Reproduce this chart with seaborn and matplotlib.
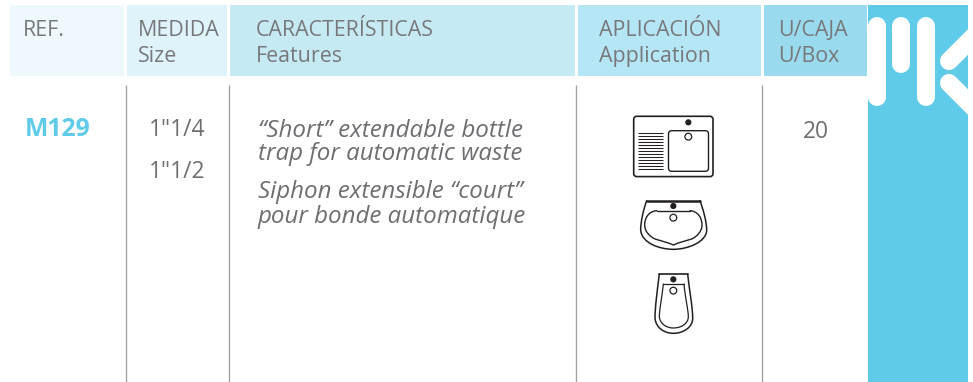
import matplotlib
matplotlib.use("Agg")
import matplotlib.pyplot as plt
from matplotlib.patches import Rectangle, FancyBboxPatch, Circle, PathPatch
from matplotlib.path import Path
import numpy as np
import pandas as pd
import seaborn as sns

headers_es = ["REF.", "MEDIDA", "CARACTERÍSTICAS", "APLICACIÓN", "U/CAJA"]
headers_en = ["", "Size", "Features", "Application", "U/Box"]
header_colors = ["#edf9fc", "#def3fa", "#c5eaf4", "#b5e6f5", "#99daef"]
ref_code = "M129"
sizes = ['1"1/4', '1"1/2']
features = ["“Short” extendable bottle", "trap for automatic waste",
            "Siphon extensible “court”", "pour bonde automatique"]
units = "20"

# layout, in pixels of the 973x382 picture
col_left = [10, 127, 230, 578, 764]
col_right = [124, 227, 575, 761, 867]
text_left = [23, 138, 256, 599, 778]
rule_x = [125.7, 228.7, 576, 762]
TEXT = "#77787b"
DARK = "#6d6e71"
BLUE = "#5fcbe8"
INK = "#231f20"

sns.set_style("white")
plt.rcParams["font.family"] = ["Open Sans", "DejaVu Sans"]

fig = plt.figure(figsize=(9.73, 3.82), dpi=100)
ax = fig.add_axes([0, 0, 1, 1])
ax.set_xlim(0, 973)
ax.set_ylim(382, 0)
ax.axis("off")
sns.despine(ax=ax, left=True, bottom=True)

bands = pd.DataFrame({"left": col_left, "right": col_right, "color": header_colors})
for _, b in bands.iterrows():
    ax.add_patch(Rectangle((b["left"], 5), b["right"] - b["left"], 71, fc=b["color"], ec="none"))

for i in range(5):
    ax.text(text_left[i], 30, headers_es[i], fontsize=15.4, color=TEXT, va="center", ha="left")
    if headers_en[i]:
        ax.text(text_left[i], 56.5, headers_en[i], fontsize=15.4, color=TEXT, va="center", ha="left")

ax.vlines(rule_x, 85, 382, color="#a3a4a6", lw=1.0)

ax.text(57.5, 129.5, ref_code, fontsize=17.8, fontweight="bold", color=BLUE, ha="center", va="center")
ax.text(177, 130.5, sizes[0], fontsize=16.4, color=DARK, ha="center", va="center")
ax.text(177, 171.5, sizes[1], fontsize=16.4, color=DARK, ha="center", va="center")
for y, line_text in zip([131, 154, 192, 217], features):
    ax.text(258, y, line_text, fontsize=17.4, style="italic", color=DARK, va="center", ha="left")
ax.text(816, 131.5, units, fontsize=16.4, color=DARK, ha="center", va="center")


def z(x, y):
    return 600 + x / 3, 90 + y / 3


def line(p0, p1, lw=1.2):
    ax.plot(*zip(z(*p0), z(*p1)), color=INK, lw=lw, solid_capstyle="round")


def spline(start, segs, lw=1.2):
    verts = [z(*start)]
    codes = [Path.MOVETO]
    for c1, c2, end in segs:
        verts += [z(*c1), z(*c2), z(*end)]
        codes += [Path.CURVE4] * 3
    ax.add_patch(PathPatch(Path(verts, codes), fc="none", ec=INK, lw=lw, capstyle="round", joinstyle="round"))


def holes(cx, y_full, y_empty):
    x0, y0 = z(cx, y_full)
    x1, y1 = z(cx, y_empty)
    ax.add_patch(Circle((x0, y0), 3.1, fc=INK, ec="none"))
    ax.add_patch(Circle((x1, y1), 3.4, fc="white", ec=INK, lw=0.9))


# sink
ax.add_patch(FancyBboxPatch((633.7, 116.3), 79.3, 60.3, boxstyle="round,pad=0,rounding_size=3", fc="none", ec=INK, lw=1.2))
ax.add_patch(FancyBboxPatch((668.5, 130.7), 40, 40.6, boxstyle="round,pad=0,rounding_size=3", fc="none", ec=INK, lw=1.0))
ax.hlines(np.linspace(133, 169, 13), 638.3, 663.3, color=INK, lw=0.75)
holes(265, 97, 140)

# wash basin
spline((140, 332), [((130, 360), (122, 395), (122, 420)),
                    ((125, 460), (180, 478), (220, 478)),
                    ((265, 478), (320, 455), (320, 420)),
                    ((320, 395), (310, 360), (300, 332))], lw=1.1)
line((140, 332), (300, 332), lw=1.8)
spline((170, 362), [((145, 364), (134, 385), (134, 405)),
                    ((134, 425), (150, 440), (165, 447)),
                    ((185, 453), (205, 458), (220, 465)),
                    ((235, 458), (255, 453), (275, 447)),
                    ((290, 440), (306, 425), (306, 405)),
                    ((306, 385), (295, 364), (270, 362))], lw=1.0)
line((170, 362), (270, 362), lw=1.0)
holes(220, 348, 383)

# bidet
spline((178, 552), [((172, 600), (165, 650), (165, 685)),
                    ((168, 715), (195, 730), (220, 730)),
                    ((250, 730), (278, 712), (278, 685)),
                    ((278, 650), (268, 600), (263, 552))], lw=1.1)
line((178, 552), (263, 552), lw=1.2)
spline((190, 582), [((186, 620), (178, 660), (178, 680)),
                    ((180, 702), (200, 714), (220, 714)),
                    ((245, 714), (265, 700), (265, 680)),
                    ((265, 660), (255, 620), (252, 582))], lw=0.9)
line((190, 582), (252, 582), lw=0.9)
holes(220, 568, 602)

# logo band with the white strokes
band = Rectangle((868, 5), 100, 377, fc=BLUE, ec="none")
ax.add_patch(band)
stroke_pts = 18 * 72 / 100
for x0, y0, x1, y1 in [(877, 26, 877, 97), (901, 26, 901, 64), (926, 26, 926, 97),
                       (949, 61, 975, 35), (949, 83, 975, 109)]:
    ln, = ax.plot([x0, x1], [y0, y1], color="white", lw=stroke_pts, solid_capstyle="round")
    ln.set_clip_path(band)

fig.savefig("out.png", dpi=100)
